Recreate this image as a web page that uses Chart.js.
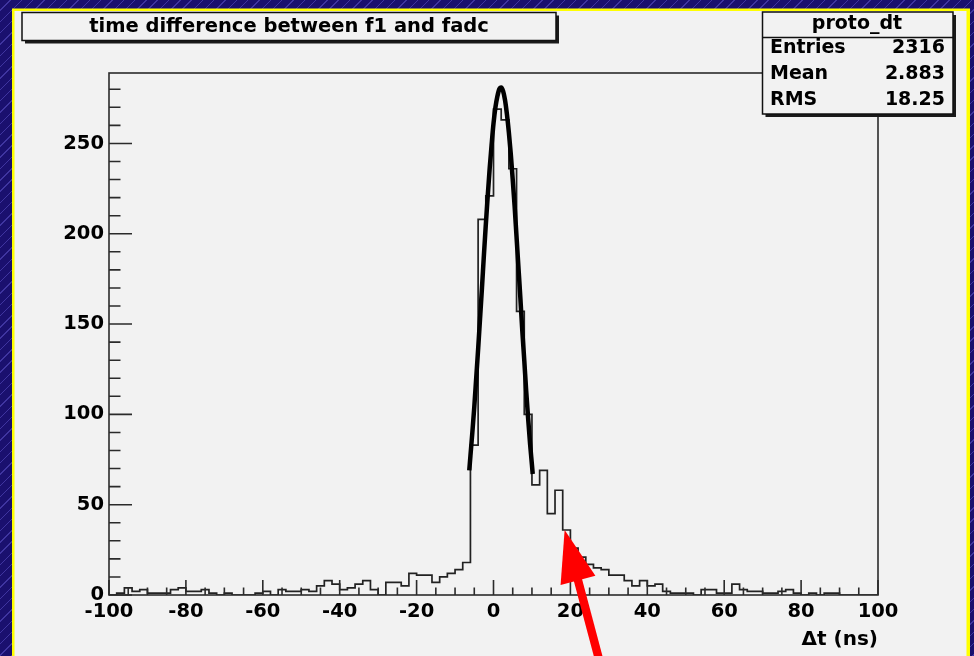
<!DOCTYPE html>
<html><head><meta charset="utf-8">
<script src="https://cdn.jsdelivr.net/npm/chart.js@4.4.0/dist/chart.umd.min.js"></script>
<style>
html,body{margin:0;padding:0;width:974px;height:656px;overflow:hidden;
background: repeating-linear-gradient(135deg, #1a106e 0px, #1a106e 7px, #3f35a0 7px, #3f35a0 8px);}
#wrap{position:absolute;left:0;top:0;width:974px;height:656px;}
canvas{display:block;}
</style></head><body>
<div id="wrap"><canvas id="c" width="974" height="656"></canvas></div>
<script>
// ---- data ----
const histName = 'proto_dt';
const histTitle = 'time difference between f1 and fadc';
const xAxisTitle = 'Δt (ns)';
const xRange = [-100, 100];
const binWidth = 2;
const counts = [
  0,1,4,2,3,1,1,1,3,4, 2,2,3,1,0,1,0,0,0,1, 2,0,3,2,2,
  3,2,5,8,6,3,4,6,8,3, 0,7,7,5,12,11,11,7,10,12, 14,18,
  83,208,221,269,263,236,157,100,
  61,69,45,58,36,
  26,21,17,15,14,11,11,8,5,8,
  5,6,2,1,1,1,0,3,3,1,
  1,6,3,2,2,1,1,2,3,1,
  0,1,0,1,1,0,0,0,0,0
];
const fitX = [-6.3,-6,-5.5,-5,-4.5,-4,-3.5,-3,-2.5,-2,-1.5,-1,-0.5,0,0.5,1,1.5,2,2.5,3,3.5,4,4.5,5,5.5,6,6.5,7,7.5,8,8.5,9,9.5,10,10.2];
const fitY = [69,77,90,104,120,136,153,170,188,205,221,236,249,261,270,276,280,281,279,274,266,256,244,230,215,198,181,164,146,130,113,98,84,72,67];
const xMajorTicks = [-100,-80,-60,-40,-20,0,20,40,60,80,100];
const xMinorStep = 5;
const yMajorTicks = [0,50,100,150,200,250];
const yMinorStep = 10;
const yMax = 289;
const statsLabels = ['Entries','Mean','RMS'];
const statsValues = ['2316','2.883','18.25'];
const arrowTip = [18.5, 36];

// ---- build ----
const histPts = counts.map((c,i)=>({x: xRange[0] + i*binWidth, y: c}));
histPts.push({x: xRange[1], y: counts[counts.length-1]});
const fitPts = fitX.map((x,i)=>({x, y: fitY[i]}));

const FONT = '"DejaVu Sans", "Liberation Sans", sans-serif';
const PANEL = '#f2f2f2';

function box(ctx, x0, y0, x1, y1){
  ctx.fillStyle = '#1a1a1a';
  ctx.fillRect(x0+3, y0+3, x1-x0, y1-y0);
  ctx.fillStyle = PANEL;
  ctx.fillRect(x0, y0, x1-x0, y1-y0);
  ctx.strokeStyle = '#111'; ctx.lineWidth = 1.5;
  ctx.strokeRect(x0, y0, x1-x0, y1-y0);
}

const rootPlugin = {
  id: 'rootPlugin',
  beforeDraw(chart){
    const ctx = chart.ctx;
    ctx.save();
    ctx.fillStyle = '#ffff00';
    ctx.fillRect(12, 8.5, 958, 660);
    ctx.fillStyle = PANEL;
    ctx.fillRect(14.5, 11, 952, 660);
    ctx.restore();
  },
  afterDatasetsDraw(chart){
    const ctx = chart.ctx, a = chart.chartArea;
    const xs = chart.scales.x, ys = chart.scales.y;
    ctx.save();
    ctx.strokeStyle = '#2b2b2b'; ctx.lineWidth = 1.6;
    ctx.strokeRect(a.left, a.top, a.right-a.left, a.bottom-a.top);
    ctx.beginPath();
    const xMajLen = 15, xMinLen = 7.5, yMajLen = 23, yMinLen = 11.5;
    for (let v = xRange[0]; v <= xRange[1]; v += xMinorStep){
      const p = xs.getPixelForValue(v);
      const L = xMajorTicks.includes(v) ? xMajLen : xMinLen;
      ctx.moveTo(p, a.bottom); ctx.lineTo(p, a.bottom - L);
    }
    for (let v = 0; v <= yMax; v += yMinorStep){
      const p = ys.getPixelForValue(v);
      const L = yMajorTicks.includes(v) ? yMajLen : yMinLen;
      ctx.moveTo(a.left, p); ctx.lineTo(a.left + L, p);
    }
    ctx.stroke();
    ctx.restore();
  },
  afterDraw(chart){
    const ctx = chart.ctx;
    const xs = chart.scales.x, ys = chart.scales.y;
    ctx.save();
    // title box
    box(ctx, 22, 12.5, 556, 40.5);
    ctx.fillStyle = '#000';
    ctx.font = 'bold 19.5px ' + FONT;
    ctx.textAlign = 'center'; ctx.textBaseline = 'middle';
    ctx.fillText(histTitle, 289, 26.5);
    // stats box
    box(ctx, 762.5, 12, 953, 114);
    ctx.beginPath(); ctx.moveTo(762.5, 37.5); ctx.lineTo(953, 37.5);
    ctx.strokeStyle = '#111'; ctx.lineWidth = 1.5; ctx.stroke();
    ctx.fillStyle = '#000';
    ctx.font = 'bold 19px ' + FONT;
    ctx.textAlign = 'center';
    ctx.fillText(histName, 857, 24.5);
    const rowsY = [48.5, 74.5, 100];
    statsLabels.forEach((l,i)=>{
      ctx.textAlign = 'left'; ctx.fillText(l, 770, rowsY[i]);
      ctx.textAlign = 'right'; ctx.fillText(statsValues[i], 945, rowsY[i]);
    });
    // red arrow
    const tx = xs.getPixelForValue(arrowTip[0]), ty = ys.getPixelForValue(arrowTip[1]);
    const ux = 0.257, uy = 0.967, nx = -uy, ny = ux;
    const headLen = 52, headHalf = 18, shaftHalf = 4.2, len = 140;
    const bx = tx + ux*headLen, by = ty + uy*headLen;
    ctx.fillStyle = '#ff0000';
    ctx.beginPath();
    ctx.moveTo(tx, ty);
    ctx.lineTo(bx + nx*headHalf, by + ny*headHalf);
    ctx.lineTo(bx - nx*headHalf, by - ny*headHalf);
    ctx.closePath(); ctx.fill();
    ctx.beginPath();
    const ex = tx + ux*len, ey = ty + uy*len;
    const sx = tx + ux*(headLen-2), sy = ty + uy*(headLen-2);
    ctx.moveTo(sx + nx*shaftHalf, sy + ny*shaftHalf);
    ctx.lineTo(ex + nx*shaftHalf, ey + ny*shaftHalf);
    ctx.lineTo(ex - nx*shaftHalf, ey - ny*shaftHalf);
    ctx.lineTo(sx - nx*shaftHalf, sy - ny*shaftHalf);
    ctx.closePath(); ctx.fill();
    ctx.restore();
  }
};

const tickFont = {family: FONT, size: 19.5, weight: 'bold'};
const axisTitleFont = {family: FONT, size: 20, weight: 'bold'};
new Chart(document.getElementById('c'), {
  type: 'line',
  data: { datasets: [
    { label: 'fit', data: fitPts, borderColor: '#000', borderWidth: 4.5, pointRadius: 0,
      cubicInterpolationMode: 'monotone', fill: false, order: 0 },
    { label: histName, data: histPts, borderColor: '#222', borderWidth: 1.7, pointRadius: 0,
      stepped: 'before', fill: false, order: 1 }
  ]},
  options: {
    responsive: false, animation: false, devicePixelRatio: 1,
    layout: { padding: { left: 0, top: 73, right: 96, bottom: 0 } },
    plugins: { legend: { display: false }, tooltip: { enabled: false } },
    scales: {
      x: {
        type: 'linear', min: xRange[0], max: xRange[1],
        grid: { display: false, drawTicks: false }, border: { display: false },
        afterBuildTicks: s => { s.ticks = xMajorTicks.map(v => ({ value: v })); },
        afterFit: s => { s.height = 61; },
        ticks: { font: tickFont, color: '#000', padding: 5, maxRotation: 0, autoSkip: false },
        title: { display: true, text: xAxisTitle, align: 'end', color: '#000',
                 font: axisTitleFont, padding: { top: 0, bottom: 4 } }
      },
      y: {
        type: 'linear', min: 0, max: yMax,
        grid: { display: false, drawTicks: false }, border: { display: false },
        afterBuildTicks: s => { s.ticks = yMajorTicks.map(v => ({ value: v })); },
        afterFit: s => { s.width = 109; },
        ticks: { font: tickFont, color: '#000', padding: 5, autoSkip: false }
      }
    }
  },
  plugins: [rootPlugin]
});
</script>
</body></html>
